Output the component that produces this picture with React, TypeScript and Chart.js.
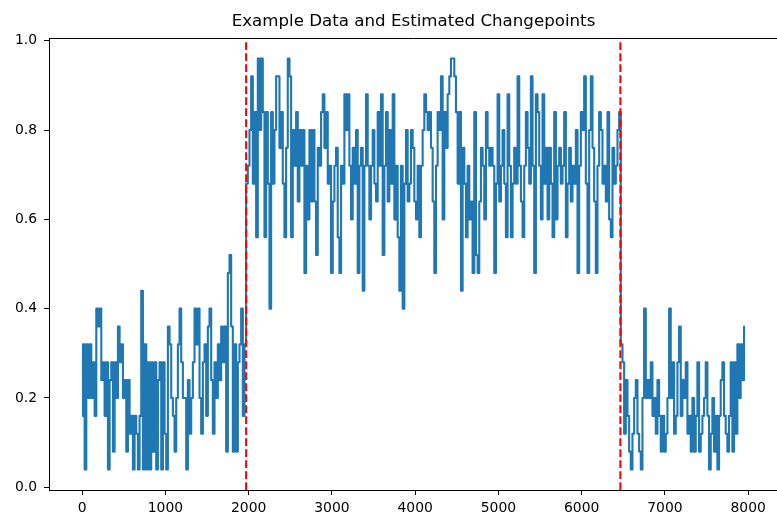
import React, { useEffect, useRef } from "react";
import { Chart, registerables } from "chart.js";

Chart.register(...registerables);

const TITLE = "Example Data and Estimated Changepoints";
const X_STEP = 20;

// segment before the first changepoint (x = 0 .. 1960)
const SEGMENT1 = [
  0.16, 0.32, 0.04, 0.32, 0.20, 0.32, 0.20, 0.28, 0.16, 0.40,
  0.36, 0.40, 0.24, 0.28, 0.16, 0.28, 0.04, 0.24, 0.28, 0.08,
  0.28, 0.20, 0.36, 0.28, 0.32, 0.20, 0.24, 0.08, 0.24, 0.12,
  0.16, 0.04, 0.16, 0.12, 0.04, 0.16, 0.44, 0.04, 0.32, 0.04,
  0.28, 0.04, 0.28, 0.08, 0.28, 0.04, 0.24, 0.28, 0.04, 0.28,
  0.12, 0.04, 0.36, 0.32, 0.20, 0.16, 0.08, 0.20, 0.32, 0.40,
  0.28, 0.20, 0.20, 0.04, 0.24, 0.12, 0.20, 0.28, 0.40, 0.32,
  0.40, 0.20, 0.12, 0.28, 0.32, 0.16, 0.36, 0.40, 0.24, 0.12,
  0.28, 0.20, 0.32, 0.24, 0.36, 0.28, 0.36, 0.08, 0.48, 0.52,
  0.36, 0.08, 0.32, 0.08, 0.28, 0.32, 0.40, 0.16, 0.32,
];

// segment between the changepoints (x = 1980 .. 6460)
const SEGMENT2 = [
  0.68, 0.72, 0.80, 0.92, 0.68, 0.84, 0.56, 0.96, 0.80, 0.96,
  0.84, 0.56, 0.84, 0.68, 0.40, 0.84, 0.68, 0.80, 0.92, 0.92,
  0.76, 0.84, 0.68, 0.56, 0.76, 0.96, 0.92, 0.56, 0.80, 0.72,
  0.84, 0.64, 0.80, 0.72, 0.80, 0.48, 0.72, 0.60, 0.80, 0.64,
  0.80, 0.64, 0.52, 0.76, 0.72, 0.84, 0.88, 0.76, 0.84, 0.68,
  0.72, 0.48, 0.64, 0.72, 0.76, 0.56, 0.48, 0.72, 0.68, 0.88,
  0.80, 0.88, 0.72, 0.60, 0.76, 0.68, 0.80, 0.48, 0.72, 0.76,
  0.44, 0.72, 0.88, 0.72, 0.60, 0.72, 0.80, 0.68, 0.64, 0.84,
  0.72, 0.88, 0.52, 0.72, 0.84, 0.64, 0.80, 0.68, 0.88, 0.60,
  0.72, 0.56, 0.44, 0.72, 0.40, 0.68, 0.80, 0.64, 0.68, 0.80,
  0.76, 0.64, 0.60, 0.72, 0.56, 0.72, 0.80, 0.88, 0.84, 0.80,
  0.84, 0.76, 0.64, 0.48, 0.72, 0.84, 0.80, 0.92, 0.60, 0.84,
  0.76, 0.88, 0.92, 0.96, 0.96, 0.92, 0.84, 0.68, 0.84, 0.44,
  0.76, 0.68, 0.56, 0.72, 0.60, 0.64, 0.48, 0.84, 0.52, 0.48,
  0.64, 0.76, 0.72, 0.60, 0.84, 0.76, 0.72, 0.76, 0.72, 0.48,
  0.68, 0.88, 0.64, 0.72, 0.80, 0.68, 0.56, 0.88, 0.72, 0.56,
  0.68, 0.76, 0.68, 0.92, 0.72, 0.64, 0.56, 0.72, 0.84, 0.76,
  0.68, 0.92, 0.72, 0.48, 0.88, 0.84, 0.72, 0.60, 0.88, 0.68,
  0.76, 0.60, 0.76, 0.68, 0.56, 0.84, 0.60, 0.72, 0.76, 0.68,
  0.72, 0.84, 0.56, 0.68, 0.76, 0.64, 0.72, 0.68, 0.80, 0.48,
  0.72, 0.84, 0.80, 0.92, 0.68, 0.48, 0.80, 0.92, 0.76, 0.64,
  0.48, 0.72, 0.84, 0.80, 0.68, 0.72, 0.64, 0.84, 0.60, 0.56,
  0.76, 0.68, 0.72, 0.80, 0.84,
];

// segment after the second changepoint (x = 6480 .. 7960)
const SEGMENT3 = [
  0.32, 0.28, 0.12, 0.24, 0.16, 0.08, 0.04, 0.12, 0.20, 0.24,
  0.12, 0.08, 0.04, 0.20, 0.40, 0.20, 0.24, 0.20, 0.28, 0.16,
  0.20, 0.12, 0.24, 0.16, 0.08, 0.16, 0.08, 0.12, 0.20, 0.40,
  0.20, 0.28, 0.12, 0.16, 0.28, 0.36, 0.16, 0.24, 0.20, 0.28,
  0.12, 0.16, 0.08, 0.20, 0.08, 0.16, 0.28, 0.08, 0.12, 0.16,
  0.20, 0.28, 0.16, 0.04, 0.12, 0.20, 0.08, 0.16, 0.04, 0.16,
  0.24, 0.28, 0.16, 0.12, 0.08, 0.16, 0.28, 0.08, 0.28, 0.12,
  0.32, 0.20, 0.32, 0.24, 0.36,
];

const CHANGEPOINTS = [1970, 6465];
const X_TICKS = [0, 1000, 2000, 3000, 4000, 5000, 6000, 7000, 8000];
const Y_TICKS = [0.0, 0.2, 0.4, 0.6, 0.8, 1.0];
const X_MIN = -398;
const X_MAX = 8358;
const Y_MIN = -0.006;
const Y_MAX = 1.006;

const FONT = "'DejaVu Sans', 'Liberation Sans', sans-serif";

const overlayPlugin = {
  id: "overlay",
  afterDatasetsDraw(chart: any) {
    const { ctx, chartArea } = chart;
    const xs = chart.scales.x;
    ctx.save();
    ctx.strokeStyle = "#ff0000";
    ctx.lineWidth = 2.1;
    ctx.setLineDash([7.7, 3.3]);
    for (const cp of CHANGEPOINTS) {
      const px = xs.getPixelForValue(cp);
      ctx.beginPath();
      ctx.moveTo(px, chartArea.bottom);
      ctx.lineTo(px, chartArea.top);
      ctx.stroke();
    }
    ctx.restore();
  },
  afterDraw(chart: any) {
    const { ctx, chartArea } = chart;
    ctx.save();
    ctx.strokeStyle = "#000";
    ctx.lineWidth = 1;
    ctx.beginPath();
    ctx.moveTo(chartArea.left, chartArea.top + 0.5);
    ctx.lineTo(chartArea.right, chartArea.top + 0.5);
    ctx.moveTo(chartArea.right - 0.5, chartArea.top);
    ctx.lineTo(chartArea.right - 0.5, chartArea.bottom);
    ctx.stroke();
    ctx.fillStyle = "#000";
    ctx.font = `16.67px ${FONT}`;
    ctx.textAlign = "center";
    ctx.textBaseline = "alphabetic";
    ctx.fillText(TITLE, (chartArea.left + chartArea.right) / 2, 25.5);
    ctx.restore();
  },
};

export default function App() {
  const canvasRef = useRef<HTMLCanvasElement | null>(null);

  useEffect(() => {
    const canvas = canvasRef.current;
    if (!canvas) return;
    const values = [...SEGMENT1, ...SEGMENT2, ...SEGMENT3];
    const points = values.map((v, i) => ({ x: i * X_STEP, y: v }));

    const chart = new Chart(canvas, {
      type: "line",
      data: {
        datasets: [
          {
            data: points,
            borderColor: "#1f77b4",
            borderWidth: 2.1,
            pointRadius: 0,
            stepped: "middle",
            fill: false,
            borderJoinStyle: "round",
            borderCapStyle: "butt",
          },
        ],
      },
      options: {
        responsive: false,
        maintainAspectRatio: false,
        animation: false,
        events: [],
        layout: { padding: { left: 0, top: 38, right: 12, bottom: 0 } },
        plugins: {
          legend: { display: false },
          title: { display: false },
          tooltip: { enabled: false },
        },
        scales: {
          x: {
            type: "linear",
            min: X_MIN,
            max: X_MAX,
            afterBuildTicks: (scale: any) => {
              scale.ticks = X_TICKS.map((v) => ({ value: v }));
            },
            afterFit: (scale: any) => {
              scale.height = 29;
            },
            ticks: {
              color: "#000",
              font: { family: FONT, size: 13.9 },
              padding: 5,
              maxRotation: 0,
              autoSkip: false,
              callback: (v: any) => String(v),
            },
            grid: {
              display: true,
              drawOnChartArea: false,
              drawTicks: true,
              tickLength: 5,
              color: "#000",
              lineWidth: 1,
            },
            border: { display: true, color: "#000", width: 1 },
          },
          y: {
            type: "linear",
            min: Y_MIN,
            max: Y_MAX,
            afterBuildTicks: (scale: any) => {
              scale.ticks = Y_TICKS.map((v) => ({ value: v }));
            },
            afterFit: (scale: any) => {
              scale.width = 49;
            },
            ticks: {
              color: "#000",
              font: { family: FONT, size: 13.9 },
              padding: 7,
              autoSkip: false,
              callback: (v: any) => Number(v).toFixed(1),
            },
            grid: {
              display: true,
              drawOnChartArea: false,
              drawTicks: true,
              tickLength: 5,
              color: "#000",
              lineWidth: 1,
            },
            border: { display: true, color: "#000", width: 1 },
          },
        },
      },
      plugins: [overlayPlugin],
    });

    return () => chart.destroy();
  }, []);

  return (
    <div
      style={{
        position: "fixed",
        left: 0,
        top: 0,
        width: 777,
        height: 519,
        overflow: "hidden",
        background: "#fff",
      }}
    >
      <canvas ref={canvasRef} width={790} height={519} style={{ display: "block" }} />
    </div>
  );
}
